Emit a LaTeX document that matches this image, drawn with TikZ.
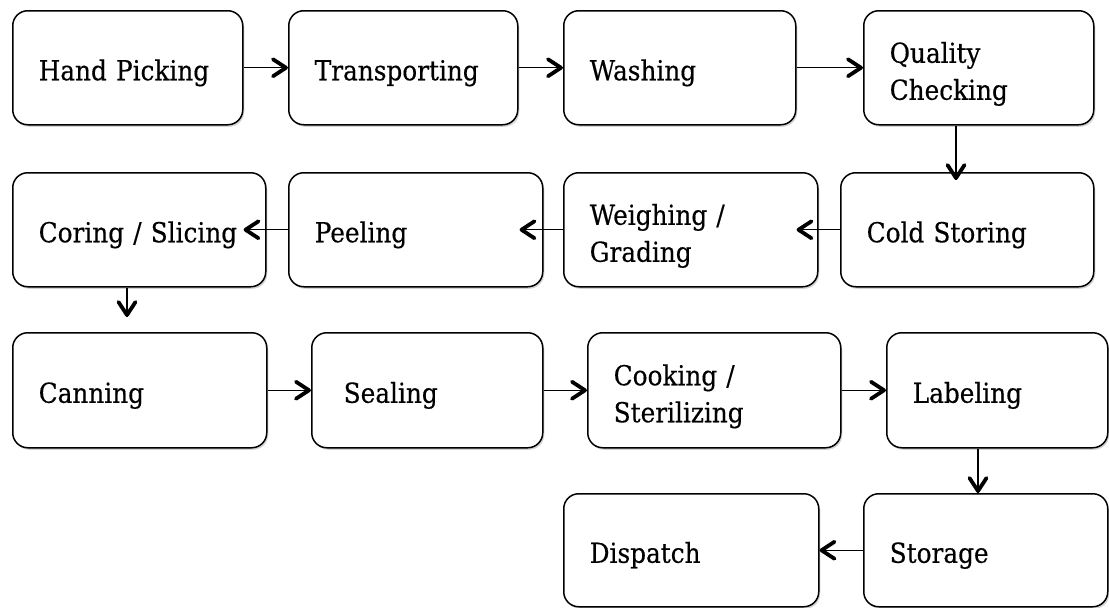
\documentclass[tikz,border=0pt]{standalone}
\usepackage{fontspec}
\setmainfont[FakeStretch=0.9,FakeBold=0.4]{DejaVu Serif}
\usetikzlibrary{shadows,calc,decorations.markings}
\tikzset{
  procbox/.style={draw=black, line width=1.5pt, rounded corners=15pt, fill=white,
    drop shadow={opacity=0.35, shadow xshift=1.5pt, shadow yshift=-2pt},
    align=left, anchor=north west, inner xsep=26pt, inner ysep=0pt,
    font=\fontsize{27.5}{37}\selectfont, text height=25pt, text depth=0pt},
  twoline/.style={text height=25pt, text depth=35pt},
  arr/.style={line width=1.3pt, draw=black, postaction={decorate},
    decoration={markings, mark=at position 1 with {
      \draw[line width=3.8pt, line cap=round, line join=round]
        (-15pt,-8.5pt) -- (-2pt,0pt) -- (-15pt,8.5pt);}}}
}
\begin{document}
\begin{tikzpicture}[x=1pt,y=-1pt]
\useasboundingbox (0,0) rectangle (1109,608);
% row 1
\node[procbox, minimum width=230pt, minimum height=114pt, text width=178pt] (HP) at (12,10) {\mbox{Hand Picking}};
\node[procbox, minimum width=229pt, minimum height=114pt, text width=177pt] (TR) at (288,10) {\mbox{Transporting}};
\node[procbox, minimum width=232pt, minimum height=114pt, text width=180pt] (WA) at (563,10) {\mbox{Washing}};
\node[procbox, twoline, minimum width=230pt, minimum height=114pt, text width=178pt] (QC) at (863,10) {Quality\\Checking};
% row 2
\node[procbox, minimum width=253pt, minimum height=114pt, text width=201pt] (CS) at (12,172) {\mbox{Coring / Slicing}};
\node[procbox, minimum width=254pt, minimum height=114pt, text width=202pt] (PE) at (288,172) {\mbox{Peeling}};
\node[procbox, twoline, minimum width=254pt, minimum height=114pt, text width=202pt] (WG) at (563,172) {Weighing /\\Grading};
\node[procbox, minimum width=253pt, minimum height=114pt, text width=201pt] (CO) at (840,172) {\mbox{Cold Storing}};
% row 3
\node[procbox, minimum width=254pt, minimum height=115pt, text width=202pt] (CA) at (12,332) {\mbox{Canning}};
\node[procbox, minimum width=231pt, minimum height=115pt, inner xsep=32pt, text width=167pt] (SE) at (311,332) {\mbox{Sealing}};
\node[procbox, twoline, minimum width=253pt, minimum height=115pt, text width=201pt] (CK) at (587,332) {Cooking /\\Sterilizing};
\node[procbox, minimum width=221pt, minimum height=115pt, text width=169pt] (LA) at (886,332) {\mbox{Labeling}};
% row 4
\node[procbox, minimum width=255pt, minimum height=113pt, text width=203pt] (DI) at (563,493) {\mbox{Dispatch}};
\node[procbox, minimum width=244pt, minimum height=113pt, text width=192pt] (ST) at (863,493) {\mbox{Storage}};
% connector ends
\coordinate (qd) at (956,180);
\coordinate (cd) at (127,317);
\coordinate (ld) at (978,0);
% connectors
\draw[arr] (HP.east) -- (TR.west);
\draw[arr] (TR.east) -- (WA.west);
\draw[arr] (WA.east) -- (QC.west);
\draw[arr] (QC.south -| qd) -- (qd);
\draw[arr] (CO.west) -- ($(WG.east)+(-22,0)$);
\draw[arr] (WG.west) -- ($(PE.east)+(-24,0)$);
\draw[arr] (PE.west) -- ($(CS.east)+(-23,0)$);
\draw[arr] (CS.south -| cd) -- (cd);
\draw[arr] (CA.east) -- (SE.west);
\draw[arr] (SE.east) -- (CK.west);
\draw[arr] (CK.east) -- (LA.west);
\draw[arr] (LA.south -| ld) -- (ST.north -| ld);
\draw[arr] (ST.west) -- (DI.east);
\end{tikzpicture}
\end{document}
